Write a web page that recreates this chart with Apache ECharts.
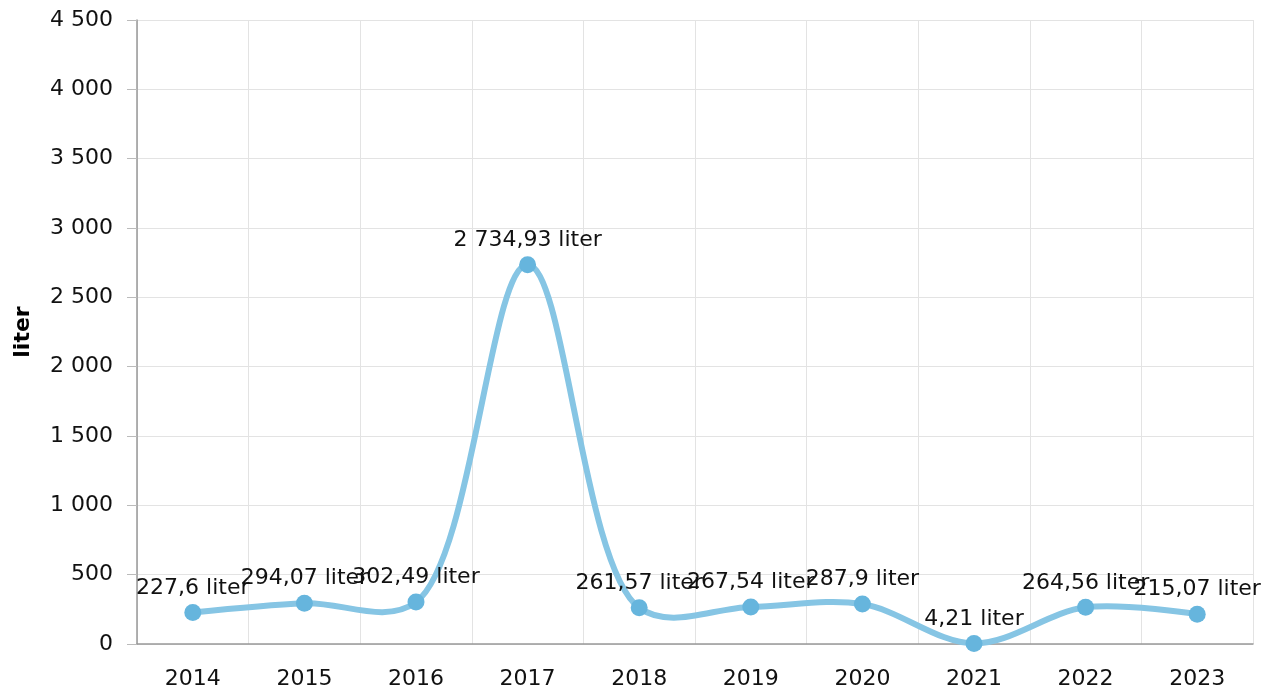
<!DOCTYPE html>
<html>
<head>
<meta charset="utf-8">
<script src="https://cdn.jsdelivr.net/npm/echarts@6/dist/echarts.min.js"></script>
<style>
	html, body { margin: 0; padding: 0; background: #fff; }
	#chart-one { width: 1275px; height: 695px; }
</style>
</head>
<body>
<div id="chart-one"></div>
<script>
var years = ['2014', '2015', '2016', '2017', '2018', '2019', '2020', '2021', '2022', '2023'];
var volumes = [227.6, 294.07, 302.49, 2734.93, 261.57, 267.54, 287.9, 4.21, 264.56, 215.07];
var unit = 'liter';

// 2 734,93 style: space for thousands, comma for decimals
function fmt(v){
	var parts = String(v).split('.');
	var intPart = parts[0].replace(/\B(?=(\d{3})+(?!\d))/g, ' ');
	return parts.length > 1 ? intPart + ',' + parts[1] : intPart;
}

// centripetal catmull-rom segment (alpha 0.5) between p1 and p2
function segment(p0, p1, p2, p3){
	function dist(a, b){ return Math.sqrt((a[0]-b[0])*(a[0]-b[0]) + (a[1]-b[1])*(a[1]-b[1])); }
	var l01 = p0 ? dist(p0, p1) : 0;
	var l12 = dist(p1, p2);
	var l23 = p3 ? dist(p2, p3) : 0;
	var c1 = [p1[0], p1[1]], c2 = [p2[0], p2[1]];
	if (l01 > 1e-6) {
		var a = 2 * l01 + 3 * Math.sqrt(l01) * Math.sqrt(l12) + l12;
		var n = 3 * Math.sqrt(l01) * (Math.sqrt(l01) + Math.sqrt(l12));
		c1 = [(p1[0]*a - p0[0]*l12 + p2[0]*l01) / n, (p1[1]*a - p0[1]*l12 + p2[1]*l01) / n];
	}
	if (l23 > 1e-6) {
		var b = 2 * l23 + 3 * Math.sqrt(l23) * Math.sqrt(l12) + l12;
		var m = 3 * Math.sqrt(l23) * (Math.sqrt(l23) + Math.sqrt(l12));
		c2 = [(p2[0]*b + p1[0]*l23 - p3[0]*l12) / m, (p2[1]*b + p1[1]*l23 - p3[1]*l12) / m];
	}
	return { x1: p1[0], y1: p1[1], cpx1: c1[0], cpy1: c1[1], cpx2: c2[0], cpy2: c2[1], x2: p2[0], y2: p2[1] };
}

var mychart = echarts.init(document.getElementById('chart-one'));
var font = 'DejaVu Sans';

var option = {
	animation: false,
	grid: {
		'left': 137,
		'right': 22,
		'top': 20,
		'bottom': 51
	},
	xAxis: {
		'type': 'category',
		'data': years,
		'boundaryGap': true,
		'axisLine': { 'lineStyle': { 'color': '#999', 'width': 1.5 } },
		'axisTick': { 'alignWithLabel': true, 'length': 10, 'lineStyle': { 'color': '#bbb' } },
		'axisLabel': { 'color': '#111', 'fontSize': 22, 'fontFamily': font, 'margin': 24 },
		'splitLine': { 'show': true, 'lineStyle': { 'color': '#e3e3e3' } }
	},
	yAxis: {
		'type': 'value',
		'min': 0,
		'max': 4500,
		'interval': 500,
		'name': unit,
		'nameLocation': 'middle',
		'nameGap': 103,
		'nameTextStyle': { 'color': '#000', 'fontSize': 22, 'fontWeight': 'bold', 'fontFamily': font },
		'axisLine': { 'show': true, 'lineStyle': { 'color': '#999', 'width': 1.5 } },
		'axisTick': { 'show': true, 'length': 10, 'lineStyle': { 'color': '#bbb' } },
		'axisLabel': {
			'color': '#111', 'fontSize': 22, 'fontFamily': font, 'margin': 24,
			'formatter': function(v){ return fmt(v); }
		},
		'splitLine': { 'lineStyle': { 'color': '#e3e3e3' } }
	},
	series: [{
		'type': 'custom',
		'silent': true,
		'z': 1,
		'data': volumes.map(function(v, i){ return [i, v]; }),
		'renderItem': function(params, api){
			var i = params.dataIndex;
			if (i === 0) return null;
			function pt(j){
				if (j < 0 || j >= volumes.length) return null;
				return api.coord([j, volumes[j]]);
			}
			return {
				'type': 'bezierCurve',
				'shape': segment(pt(i - 2), pt(i - 1), pt(i), pt(i + 1)),
				'style': { 'fill': null, 'stroke': '#86c5e4', 'lineWidth': 6, 'lineCap': 'round' }
			};
		}
	}, {
		'type': 'line',
		'z': 2,
		'data': volumes,
		'symbol': 'circle',
		'symbolSize': 17,
		'itemStyle': { 'color': '#66b5dd' },
		'lineStyle': { 'width': 0, 'opacity': 0 },
		'label': {
			'show': true,
			'position': 'top',
			'distance': 5,
			'color': '#111',
			'fontSize': 22,
			'fontFamily': font,
			'formatter': function(p){ return fmt(p.value) + ' ' + unit; }
		}
	}]
};

mychart.setOption(option);
</script>
</body>
</html>
